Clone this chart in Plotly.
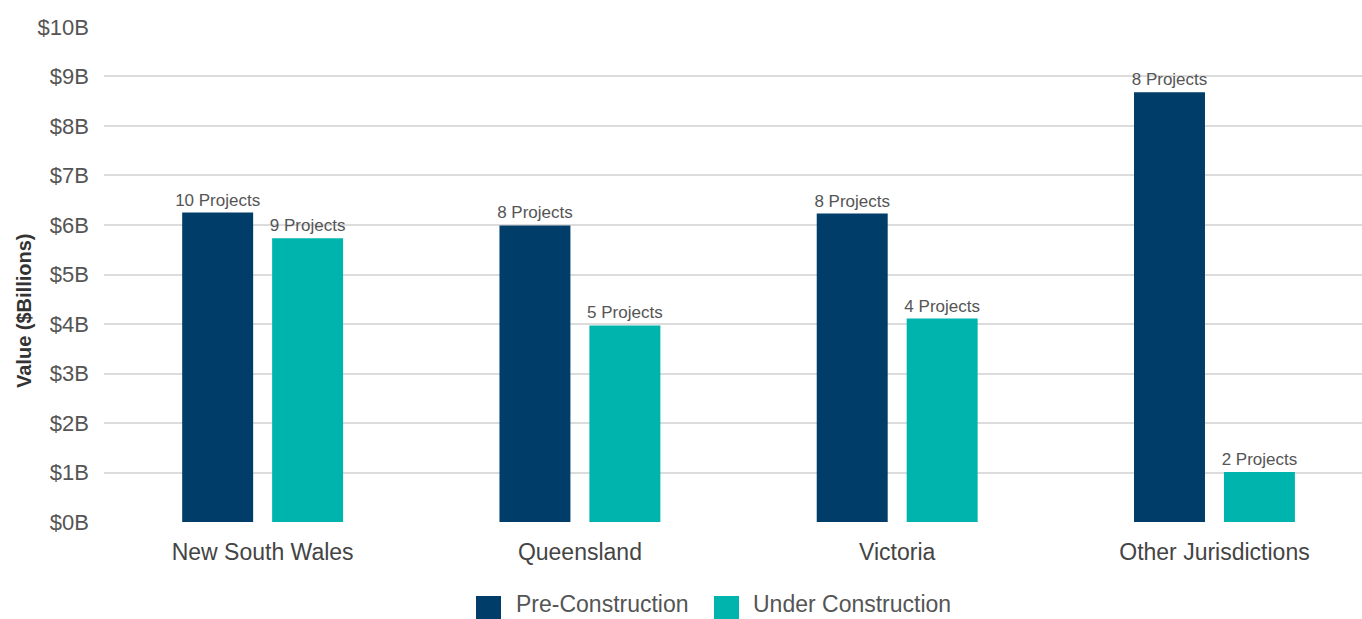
import plotly.graph_objects as go

categories = ["New South Wales", "Queensland", "Victoria", "Other Jurisdictions"]
pre_values = [6.25, 5.99, 6.23, 8.68]
under_values = [5.73, 3.97, 4.11, 1.01]
pre_projects = ["10 Projects", "8 Projects", "8 Projects", "8 Projects"]
under_projects = ["9 Projects", "5 Projects", "4 Projects", "2 Projects"]
tick_vals = [0, 1, 2, 3, 4, 5, 6, 7, 8, 9, 10]
tick_text = ["$0B", "$1B", "$2B", "$3B", "$4B", "$5B", "$6B", "$7B", "$8B", "$9B", "$10B"]
series_names = ["Pre-Construction", "Under Construction"]
series_colors = ["#003D68", "#00B4AE"]

FONT = "Liberation Sans, Arial, Helvetica, sans-serif"

W, H = 1362, 619
L, R, T, B = 104, 0, 26, 97
PW, PH = W - L - R, H - T - B


def px_x(x):
    return (x - L) / PW


def px_y(y):
    return (H - B - y) / PH


fig = go.Figure()
for vals, txt, name, col in zip([pre_values, under_values], [pre_projects, under_projects],
                                series_names, series_colors):
    fig.add_trace(go.Bar(
        x=categories, y=vals, name=name,
        marker=dict(color=col, line=dict(width=0)),
        text=txt, textposition="outside", constraintext="none",
        textfont=dict(size=17, color="#555555", family=FONT),
        cliponaxis=False, showlegend=False,
    ))

# custom legend (large square swatches)
shapes = []
annotations = []
legend_items = [(476, 515), (714, 752)]
for (sx, tx), name, col in zip(legend_items, series_names, series_colors):
    shapes.append(dict(type="rect", xref="paper", yref="paper",
                       x0=px_x(sx), x1=px_x(sx + 25), y0=px_y(596), y1=px_y(622),
                       fillcolor=col, line=dict(width=0), layer="above"))
    annotations.append(dict(xref="paper", yref="paper", x=px_x(tx), y=px_y(604),
                            xanchor="left", yanchor="middle", showarrow=False,
                            borderpad=0,
                            text=name, font=dict(size=23, color="#555555", family=FONT)))

# y-axis title placed as in the reference
annotations.append(dict(xref="paper", yref="paper", x=px_x(24), y=px_y(311),
                        xanchor="center", yanchor="middle", showarrow=False,
                        textangle=-90, text="<b>Value ($Billions)</b>",
                        font=dict(size=20, color="#333333", family=FONT)))

fig.update_layout(
    width=W, height=H,
    margin=dict(l=L, r=R, t=T, b=B, autoexpand=False),
    paper_bgcolor="white", plot_bgcolor="white",
    barmode="group", bargap=0.433, bargroupgap=0.211,
    font=dict(family=FONT, color="#555555"),
    showlegend=False,
    shapes=shapes, annotations=annotations,
    xaxis=dict(range=[-0.5, 3.465], showgrid=False, zeroline=False, showline=False,
               tickfont=dict(size=23, color="#444444", family=FONT), ticks="",
               ticklabelstandoff=14, automargin=False),
    yaxis=dict(range=[0, 10.02], tickvals=tick_vals, ticktext=tick_text,
               showgrid=True, gridcolor="#DCDCDC", gridwidth=2,
               zeroline=False, showline=False, ticks="",
               tickfont=dict(size=22, color="#555555", family=FONT),
               ticklabelstandoff=14, automargin=False),
)

fig.write_html("out.html")
